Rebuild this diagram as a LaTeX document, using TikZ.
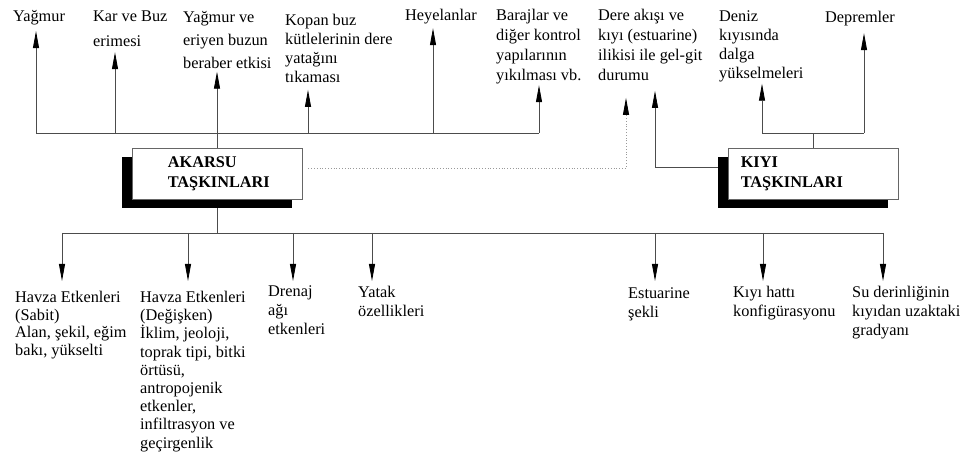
\documentclass[tikz,border=0pt]{standalone}
\usepackage{fontspec}
\setmainfont{Liberation Serif}
\usetikzlibrary{arrows.meta, shadows}

\begin{document}
\begin{tikzpicture}[x=1pt, y=-1pt,
    lbl/.style={anchor=north west, align=left, inner sep=0pt, font=\fontsize{16.3}{19}\selectfont},
    box/.style={rectangle, draw=black!60, fill=white, line width=0.8pt, minimum width=170pt, minimum height=51pt,
        drop shadow={shadow xshift=-10pt, shadow yshift=-9pt, fill=black, opacity=1}},
    boxtxt/.style={anchor=west, align=left, inner sep=0pt, font=\fontsize{16.3}{20}\selectfont\bfseries},
    line/.style={draw=black!70, line width=0.8pt},
    up/.style={line, -{Triangle[length=17pt, width=6pt, color=black]}},
    dots/.style={up, draw=black!40, dash pattern=on 0.8pt off 2pt}
]
    \useasboundingbox (0,0) rectangle (974,462);

    \node[box] (akarsu) at (217,173.5) {};
    \node[boxtxt] (akarsutxt) at ([xshift=36pt]akarsu.west) {AKARSU\\TAŞKINLARI};
    \node[box] (kiyi) at (813,173.5) {};
    \node[boxtxt] (kiyitxt) at ([xshift=13pt]kiyi.west) {KIYI\\TAŞKINLARI};

    \node[lbl] (yagmur) at (13,10) {Yağmur};
    \node[lbl, font=\fontsize{16.3}{25}\selectfont] (karbuz) at (93,11) {Kar ve Buz\\erimesi};
    \node[lbl, font=\fontsize{16.3}{23}\selectfont] (yagmurbuz) at (183,11) {Yağmur ve\\eriyen buzun\\beraber etkisi};
    \node[lbl] (kopan) at (285,14) {Kopan buz\\kütlelerinin dere\\yatağını\\tıkaması};
    \node[lbl] (heyelan) at (405,9) {Heyelanlar};
    \node[lbl, font=\fontsize{16.3}{20}\selectfont] (baraj) at (496,9) {Barajlar ve\\diğer kontrol\\yapılarının\\yıkılması vb.};
    \node[lbl, font=\fontsize{16.3}{20}\selectfont] (dere) at (598,9) {Dere akışı ve\\kıyı (estuarine)\\ilikisi ile gel-git\\durumu};
    \node[lbl] (deniz) at (719,11) {Deniz\\kıyısında\\dalga\\yükselmeleri};
    \node[lbl] (deprem) at (825,11) {Depremler};

    \node[lbl, font=\fontsize{16.3}{17.5}\selectfont] (havzasabit) at (15,291) {Havza Etkenleri\\(Sabit)\\Alan, şekil, eğim\\bakı, yükselti};
    \node[lbl, font=\fontsize{16.3}{18.2}\selectfont] (havzadegisken) at (140,291) {Havza Etkenleri\\(Değişken)\\İklim, jeoloji,\\toprak tipi, bitki\\örtüsü,\\antropojenik\\etkenler,\\infiltrasyon ve\\geçirgenlik};
    \node[lbl] (drenaj) at (268,286) {Drenaj\\ağı\\etkenleri};
    \node[lbl] (yatak) at (358,286) {Yatak\\özellikleri};
    \node[lbl] (estuarine) at (628,288) {Estuarine\\şekli};
    \node[lbl] (kiyihatti) at (733,286) {Kıyı hattı\\konfigürasyonu};
    \node[lbl] (derinlik) at (852,286) {Su derinliğinin\\kıyıdan uzaktaki\\gradyanı};

    \foreach \x/\n/\g in {36/yagmur/6, 115/karbuz/5, 308/kopan/7, 433/heyelan/4, 539/baraj/1} {
        \coordinate (t-\n) at (\x,133);
        \draw[up, shorten >=\g pt] (t-\n) -- (t-\n |- \n.south);
    }
    \draw[line] (t-yagmur) -- (t-baraj);
    \draw[up, shorten >=3pt] (akarsu.north) -- (akarsu.north |- yagmurbuz.south);

    \foreach \x/\n/\g in {62/havzasabit/10, 188/havzadegisken/10, 293/drenaj/5, 372/yatak/5, 655/estuarine/7, 763/kiyihatti/5, 883/derinlik/5} {
        \coordinate (b-\n) at (\x,233);
        \draw[up, shorten >=\g pt] (b-\n) -- (b-\n |- \n.north);
    }
    \draw[line] ([yshift=-9pt]akarsu.south) -- (akarsu.south |- b-havzasabit);
    \draw[line] (b-havzasabit) -- (b-derinlik);

    \coordinate (k-deniz) at (762,133);
    \coordinate (k-deprem) at (864,133);
    \draw[line] (kiyi.north) -- (kiyi.north |- k-deniz);
    \draw[line] (k-deniz) -- (k-deprem);
    \draw[up, shorten >=1pt] (k-deniz) -- (k-deniz |- deniz.south);
    \draw[up, shorten >=7pt] (k-deprem) -- (k-deprem |- deprem.south);
    \draw[up, shorten >=10pt] ([xshift=-10pt, yshift=6.5pt]kiyi.west) -| ([xshift=57pt]dere.south west);
    \draw[dots, shorten >=17pt] ([xshift=6pt, yshift=5.5pt]akarsu.east) -| ([xshift=28pt]dere.south west);
\end{tikzpicture}
\end{document}
